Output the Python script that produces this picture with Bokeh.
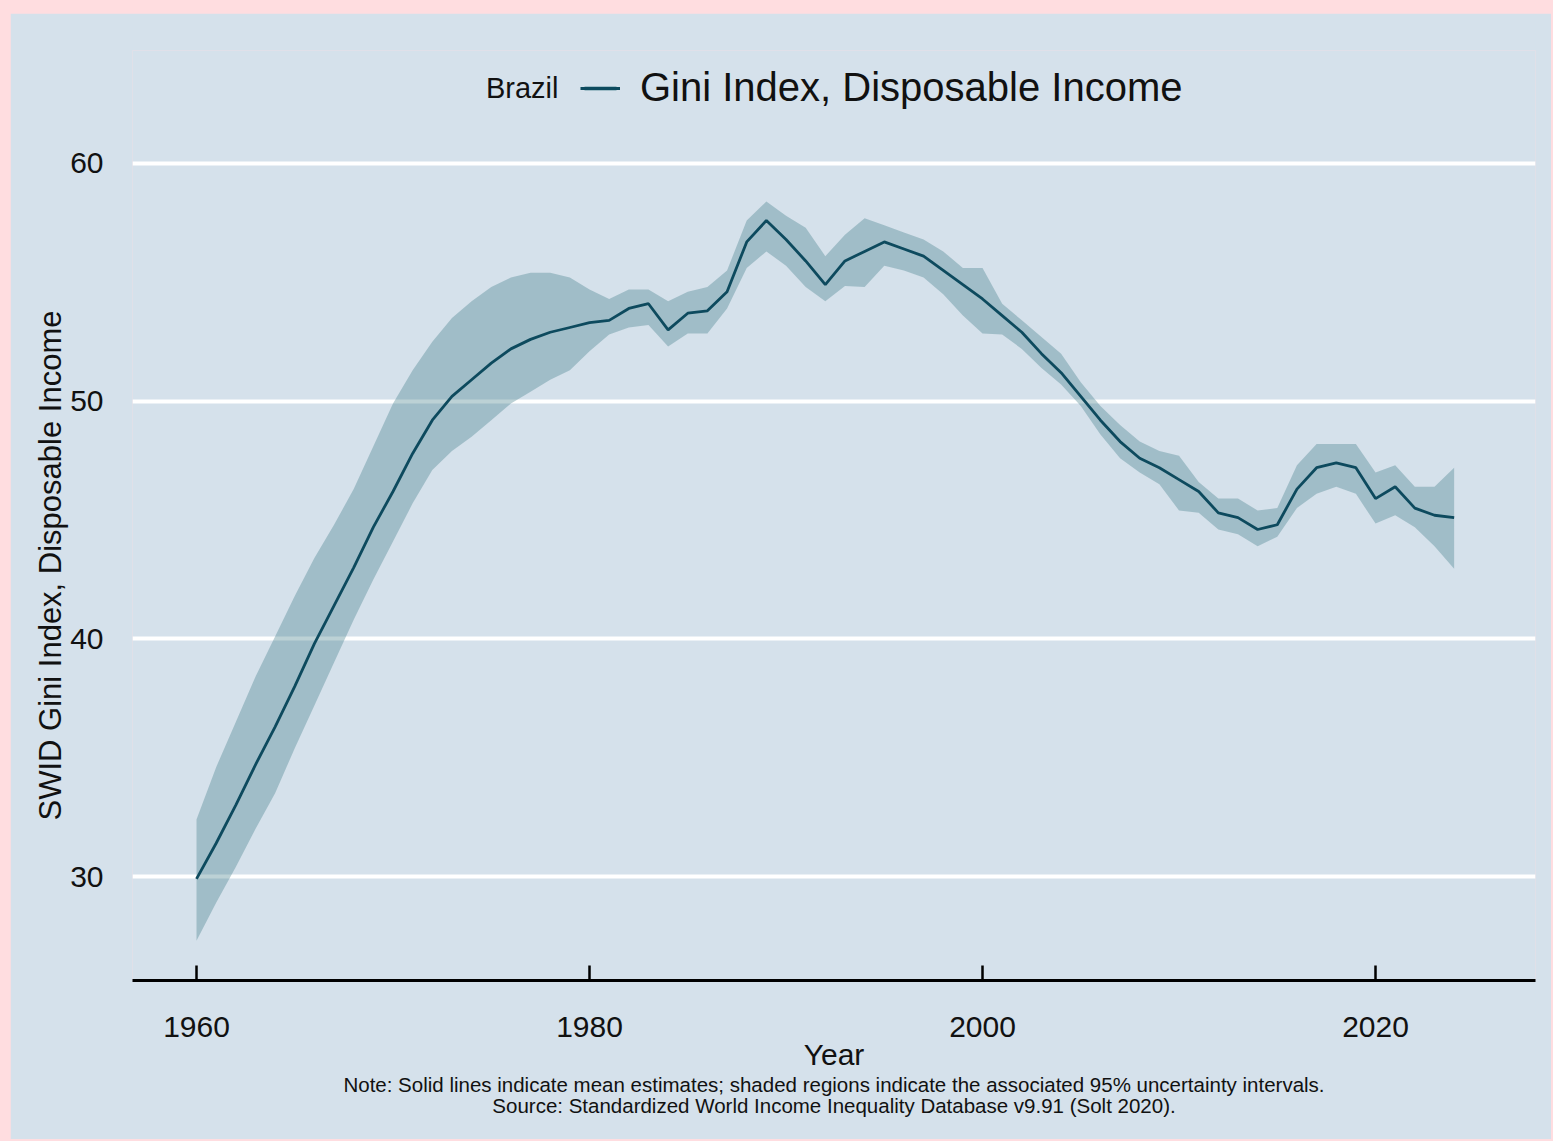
from bokeh.plotting import figure
from bokeh.models import Range1d, FixedTicker, Label, Legend, LegendItem, ColumnDataSource, Title
from bokeh.embed import file_html
from bokeh.resources import INLINE

years = list(range(1960, 2025))
gini_mean = [29.9, 31.4, 33.0, 34.7, 36.3, 38.0, 39.8, 41.4, 43.0, 44.7,
             46.2, 47.8, 49.2, 50.2, 50.9, 51.6, 52.2, 52.6, 52.9, 53.1,
             53.3, 53.4, 53.9, 54.1, 53.0, 53.7, 53.8, 54.6, 56.7, 57.6,
             56.8, 55.9, 54.9, 55.9, 56.3, 56.7, 56.4, 56.1, 55.5, 54.9,
             54.3, 53.6, 52.9, 52.0, 51.2, 50.2, 49.2, 48.3, 47.6, 47.2,
             46.7, 46.2, 45.3, 45.1, 44.6, 44.8, 46.3, 47.2, 47.4, 47.2,
             45.9, 46.4, 45.5, 45.2, 45.1]
gini_upper = [32.4, 34.6, 36.5, 38.4, 40.1, 41.8, 43.4, 44.8, 46.3, 48.1,
              49.9, 51.3, 52.5, 53.5, 54.2, 54.8, 55.2, 55.4, 55.4, 55.2,
              54.7, 54.3, 54.7, 54.7, 54.2, 54.6, 54.8, 55.5, 57.6, 58.4,
              57.8, 57.3, 56.1, 57.0, 57.7, 57.4, 57.1, 56.8, 56.3, 55.6,
              55.6, 54.1, 53.4, 52.7, 52.0, 50.8, 49.8, 49.0, 48.3, 47.9,
              47.7, 46.6, 45.9, 45.9, 45.4, 45.5, 47.3, 48.2, 48.2, 48.2,
              47.0, 47.3, 46.4, 46.4, 47.2]
gini_lower = [27.3, 28.9, 30.4, 32.0, 33.5, 35.4, 37.2, 39.0, 40.8, 42.5,
              44.1, 45.7, 47.1, 47.9, 48.5, 49.2, 49.9, 50.4, 50.9, 51.3,
              52.1, 52.8, 53.1, 53.2, 52.3, 52.85, 52.85, 53.9, 55.6, 56.3,
              55.7, 54.8, 54.2, 54.85, 54.8, 55.7, 55.5, 55.2, 54.5, 53.6,
              52.85, 52.8, 52.2, 51.4, 50.7, 49.8, 48.6, 47.6, 47.0, 46.5,
              45.4, 45.3, 44.6, 44.4, 43.9, 44.3, 45.5, 46.1, 46.4, 46.1,
              44.85, 45.2, 44.7, 43.9, 42.95]

x_ticks = [1960, 1980, 2000, 2020]
y_ticks = [30, 40, 50, 60]
country = "Brazil"
series_name = "Gini Index, Disposable Income"
y_title = "SWID Gini Index, Disposable Income"
x_title = "Year"
note_lines = [
    "Note: Solid lines indicate mean estimates; shaded regions indicate the associated 95% uncertainty intervals.",
    "Source: Standardized World Income Inequality Database v9.91 (Solt 2020).",
]
note_standoffs = [-5, -3]

BG = "#D5E1EB"
PINK = "#FFDDE0"
FONT = "Liberation Sans"
TXT = "#111111"

src = ColumnDataSource(dict(year=years, mean=gini_mean, lo=gini_lower, hi=gini_upper))

W, H = 1541, 1126
p = figure(width=W, height=H, output_backend="svg", toolbar_location=None,
           x_range=Range1d(1956.743, 2028.14), y_range=Range1d(25.625, 64.754),
           min_border_left=122, min_border_right=W - 1525, min_border_top=37,
           min_border_bottom=H - 967)
p.margin = (13, 0, 0, 10)
p.background_fill_color = BG
p.border_fill_color = BG
p.outline_line_color = None

band = p.varea(x="year", y1="lo", y2="hi", source=src, fill_color="#3E7A87", fill_alpha=0.35)
line = p.line(x="year", y="mean", source=src, line_color="#0D4A5E", line_width=2.8)

# grid
p.xgrid.visible = False
p.ygrid.ticker = FixedTicker(ticks=y_ticks)
p.ygrid.grid_line_color = "white"
p.ygrid.grid_line_width = 4

# x axis
xa = p.xaxis[0]
xa.ticker = FixedTicker(ticks=x_ticks)
xa.axis_line_color = "black"
xa.axis_line_width = 3
xa.major_tick_line_color = "black"
xa.major_tick_line_width = 2.5
xa.major_tick_in = 15
xa.major_tick_out = 0
xa.minor_tick_line_color = None
xa.major_label_standoff = 36
xa.major_label_text_font = FONT
xa.major_label_text_font_size = "30px"
xa.major_label_text_color = TXT
xa.axis_label = x_title
xa.axis_label_text_font = FONT
xa.axis_label_text_font_size = "30px"
xa.axis_label_text_font_style = "normal"
xa.axis_label_text_color = TXT
xa.axis_label_standoff = -2

# y axis
ya = p.yaxis[0]
ya.ticker = FixedTicker(ticks=y_ticks)
ya.axis_line_color = None
ya.major_tick_line_color = None
ya.minor_tick_line_color = None
ya.major_tick_in = 0
ya.major_tick_out = 0
ya.major_label_standoff = 29
ya.major_label_text_font = FONT
ya.major_label_text_font_size = "30px"
ya.major_label_text_color = TXT

p.add_layout(Title(text=y_title, align="left", offset=160, standoff=0,
                   text_font=FONT, text_font_size="31px", text_font_style="normal",
                   text_color=TXT), "left")

# legend
legend = Legend(items=[LegendItem(label=series_name, renderers=[band, line])],
                location=(448, 870), orientation="horizontal",
                glyph_width=40, glyph_height=6, label_standoff=20,
                padding=0, margin=0, border_line_color=None, background_fill_alpha=0,
                label_text_font=FONT, label_text_font_size="40px", label_text_color=TXT)
p.add_layout(legend, "center")

p.add_layout(Label(x=558 - 132, y=980 - 87, x_units="screen", y_units="screen", text=country,
                   text_align="right", text_baseline="middle",
                   text_font=FONT, text_font_size="29px", text_color=TXT))

for t, so in zip(note_lines, note_standoffs):
    p.add_layout(Title(text=t, align="center", standoff=so, text_line_height=0.8,
                       text_font=FONT, text_font_size="20.5px", text_font_style="normal",
                       text_color=TXT), "below")

html = file_html(p, INLINE, title="Brazil Gini")
html = html.replace("</head>", "<style>html, body { background-color: %s !important; }</style></head>" % PINK, 1)
open("out.html", "w").write(html)
